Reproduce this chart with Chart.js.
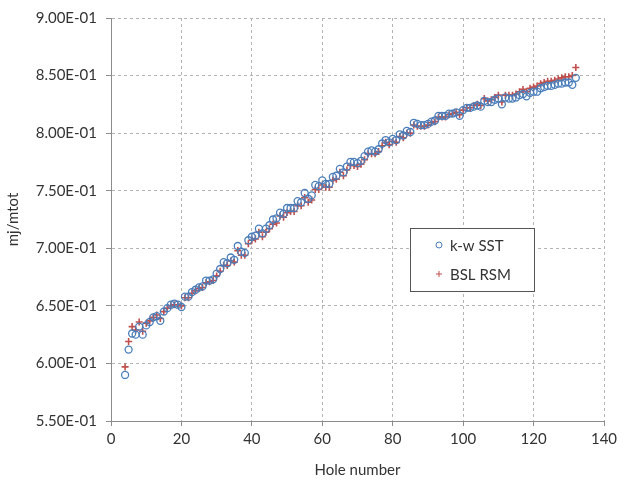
<!DOCTYPE html>
<html>
<head>
<meta charset="utf-8">
<script src="https://cdn.jsdelivr.net/npm/chart.js@4.4.1/dist/chart.umd.min.js"></script>
<style>
  html, body { margin: 0; padding: 0; background: #fff; }
  #wrap { position: relative; width: 628px; height: 483px; }
</style>
</head>
<body>
<div id="wrap"><canvas id="massChart" width="628" height="483"></canvas></div>
<script>
// hole numbers 4..132
const holes = [];
for (let h = 4; h <= 132; h++) holes.push(h);

const kwSST = [
  0.590, 0.612, 0.626, 0.625, 0.632, 0.625, 0.633, 0.636, 0.640, 0.641,
  0.637, 0.645, 0.648, 0.651, 0.652, 0.651, 0.649, 0.658, 0.658, 0.662,
  0.664, 0.666, 0.667, 0.672, 0.672, 0.673, 0.678, 0.682, 0.688, 0.687,
  0.692, 0.690, 0.702, 0.697, 0.696, 0.707, 0.710, 0.711, 0.717, 0.713,
  0.717, 0.720, 0.725, 0.726, 0.731, 0.730, 0.735, 0.735, 0.735, 0.741,
  0.740, 0.748, 0.743, 0.746, 0.755, 0.754, 0.759, 0.756, 0.756, 0.762,
  0.763, 0.769, 0.766, 0.771, 0.775, 0.775, 0.774, 0.776, 0.780, 0.784,
  0.785, 0.784, 0.786, 0.791, 0.794, 0.792, 0.795, 0.794, 0.799, 0.798,
  0.802, 0.801, 0.809, 0.808, 0.807, 0.807, 0.808, 0.810, 0.811, 0.815,
  0.815, 0.815, 0.817, 0.817, 0.818, 0.815, 0.820, 0.822, 0.822, 0.823,
  0.824, 0.823, 0.828, 0.827, 0.827, 0.829, 0.830, 0.825, 0.831, 0.830,
  0.830, 0.831, 0.833, 0.834, 0.832, 0.835, 0.836, 0.836, 0.839, 0.840,
  0.841, 0.841, 0.842, 0.843, 0.843, 0.844, 0.844, 0.842, 0.848
];

const bslRSM = [
  0.597, 0.619, 0.632, 0.629, 0.636, 0.628, 0.635, 0.637, 0.640, 0.642,
  0.639, 0.645, 0.648, 0.650, 0.651, 0.651, 0.650, 0.657, 0.657, 0.661,
  0.663, 0.665, 0.666, 0.670, 0.671, 0.672, 0.676, 0.680, 0.685, 0.685,
  0.689, 0.688, 0.698, 0.694, 0.694, 0.704, 0.707, 0.708, 0.714, 0.710,
  0.714, 0.717, 0.721, 0.722, 0.728, 0.727, 0.731, 0.732, 0.732, 0.737,
  0.737, 0.744, 0.740, 0.742, 0.751, 0.751, 0.755, 0.753, 0.753, 0.759,
  0.760, 0.766, 0.763, 0.768, 0.772, 0.772, 0.771, 0.773, 0.777, 0.782,
  0.782, 0.782, 0.784, 0.789, 0.792, 0.790, 0.793, 0.792, 0.797, 0.796,
  0.800, 0.800, 0.807, 0.806, 0.806, 0.806, 0.807, 0.809, 0.810, 0.814,
  0.814, 0.814, 0.816, 0.817, 0.818, 0.816, 0.820, 0.822, 0.822, 0.824,
  0.825, 0.824, 0.830, 0.828, 0.829, 0.831, 0.833, 0.827, 0.833, 0.833,
  0.833, 0.834, 0.836, 0.838, 0.836, 0.839, 0.840, 0.841, 0.843, 0.844,
  0.845, 0.845, 0.846, 0.847, 0.848, 0.849, 0.849, 0.850, 0.857
];

const seriesNames = ['k-w SST', 'BSL RSM'];
const xTicks = [0, 20, 40, 60, 80, 100, 120, 140];
const yTicks = [0.55, 0.60, 0.65, 0.70, 0.75, 0.80, 0.85, 0.90];

const BLUE = '#4a7ebb';
const RED = '#c0504d';
const TEXT = '#333333';
const FONT = 'Lato, "Open Sans", sans-serif';

// 9.00E-01 style labels
function sci(v) {
  const parts = Number(v).toExponential(2).split('e');
  const n = parseInt(parts[1], 10);
  return parts[0] + 'E' + (n < 0 ? '-' : '+') + String(Math.abs(n)).padStart(2, '0');
}

function pts(ys) {
  return holes.map((h, i) => ({ x: h, y: ys[i] }));
}

// small boxed legend sitting inside the plot area
const boxLegend = {
  id: 'boxLegend',
  afterDatasetsDraw(chart) {
    const ctx = chart.ctx;
    const left = 410, top = 228, w = 124, h = 63;
    ctx.save();
    ctx.fillStyle = '#fff';
    ctx.fillRect(left, top, w, h);
    ctx.strokeStyle = '#555';
    ctx.lineWidth = 1;
    ctx.strokeRect(left + 0.5, top + 0.5, w, h);
    ctx.font = '15px ' + FONT;
    ctx.textBaseline = 'middle';
    chart.data.datasets.forEach((ds, i) => {
      const y = top + 17 + i * 29;
      ctx.strokeStyle = ds.borderColor;
      ctx.fillStyle = 'rgba(0,0,0,0)';
      ctx.lineWidth = 1;
      Chart.helpers.drawPoint(ctx, { pointStyle: ds.pointStyle, radius: 3, borderWidth: 1 }, left + 29, y);
      ctx.fillStyle = TEXT;
      ctx.fillText(ds.label, left + 40, y + 1);
    });
    ctx.restore();
  }
};

const gridOpts = {
  color: '#b4b4b4',
  drawTicks: true,
  tickLength: 5,
  tickColor: '#8c8c8c',
  tickBorderDash: []
};

new Chart(document.getElementById('massChart'), {
  type: 'scatter',
  data: {
    datasets: [
      {
        label: seriesNames[0],
        data: pts(kwSST),
        pointStyle: 'circle',
        pointRadius: 3.5,
        pointBorderWidth: 1.3,
        borderColor: BLUE,
        backgroundColor: 'rgba(255,255,255,0)'
      },
      {
        label: seriesNames[1],
        data: pts(bslRSM),
        pointStyle: 'cross',
        pointRadius: 3.5,
        pointBorderWidth: 1.6,
        borderColor: RED,
        backgroundColor: RED
      }
    ]
  },
  options: {
    responsive: false,
    animation: false,
    layout: { padding: { top: 15, right: 24, left: 0, bottom: 0 } },
    plugins: {
      legend: { display: false },
      tooltip: { enabled: false }
    },
    scales: {
      x: {
        type: 'linear',
        min: xTicks[0],
        max: xTicks[xTicks.length - 1],
        afterBuildTicks(scale) { scale.ticks = xTicks.map(v => ({ value: v })); },
        afterFit(scale) { scale.height = 62; },
        border: { display: true, color: '#8c8c8c', width: 1, dash: [3, 3] },
        grid: gridOpts,
        ticks: {
          color: TEXT,
          font: { family: FONT, size: 15 },
          padding: 4,
          maxRotation: 0
        },
        title: {
          display: true,
          text: 'Hole number',
          color: TEXT,
          font: { family: FONT, size: 15 },
          padding: { top: 3 }
        }
      },
      y: {
        type: 'linear',
        min: yTicks[0],
        max: yTicks[yTicks.length - 1],
        afterBuildTicks(scale) { scale.ticks = yTicks.map(v => ({ value: v })); },
        afterFit(scale) { scale.width = 111; },
        border: { display: true, color: '#8c8c8c', width: 1, dash: [3, 3] },
        grid: gridOpts,
        ticks: {
          color: TEXT,
          font: { family: FONT, size: 15 },
          padding: 9,
          callback: v => sci(v)
        },
        title: {
          display: true,
          text: 'mj/mtot',
          color: TEXT,
          font: { family: FONT, size: 15 },
          padding: { bottom: 2 }
        }
      }
    }
  },
  plugins: [boxLegend]
});
</script>
</body>
</html>
